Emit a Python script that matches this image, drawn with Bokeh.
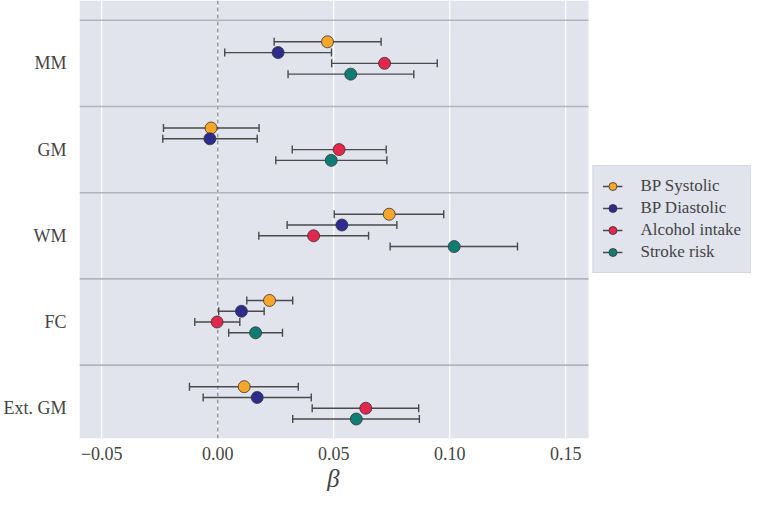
from bokeh.plotting import figure
from bokeh.models import (ColumnDataSource, Range1d, FixedTicker, Span, Whisker,
                          TeeHead, Legend, LegendItem, BoxAnnotation, Title)
from bokeh.embed import file_html
from bokeh.resources import INLINE

# ---- data ----
categories = ["MM", "GM", "WM", "FC", "Ext. GM"]
series = ["BP Systolic", "BP Diastolic", "Alcohol intake", "Stroke risk"]
colors = ["#f8a62a", "#2e2a8e", "#e3264b", "#0f7d73"]

bp_sys_beta = [0.0473, -0.0029, 0.0739, 0.0223, 0.0114]
bp_sys_lo = [0.0243, -0.0234, 0.0502, 0.0125, -0.0122]
bp_sys_hi = [0.0704, 0.0178, 0.0974, 0.0323, 0.0347]

bp_dia_beta = [0.0260, -0.0034, 0.0535, 0.0102, 0.0170]
bp_dia_lo = [0.0030, -0.0237, 0.0299, 0.0004, -0.0063]
bp_dia_hi = [0.0490, 0.0170, 0.0772, 0.0200, 0.0403]

alc_beta = [0.0719, 0.0523, 0.0413, -0.0003, 0.0638]
alc_lo = [0.0491, 0.0321, 0.0177, -0.0099, 0.0407]
alc_hi = [0.0946, 0.0726, 0.0650, 0.0095, 0.0866]

stroke_beta = [0.0573, 0.0489, 0.1019, 0.0163, 0.0597]
stroke_lo = [0.0303, 0.0250, 0.0743, 0.0047, 0.0323]
stroke_hi = [0.0845, 0.0729, 0.1292, 0.0279, 0.0869]

xtick_values = [-0.05, 0.0, 0.05, 0.10, 0.15]
xtick_labels = ["\u22120.05", "0.00", "0.05", "0.10", "0.15"]

betas = [bp_sys_beta, bp_dia_beta, alc_beta, stroke_beta]
los = [bp_sys_lo, bp_dia_lo, alc_lo, stroke_lo]
his = [bp_sys_hi, bp_dia_hi, alc_hi, stroke_hi]

# axis limits of the data panel
X_MIN, X_MAX = -0.0596, 0.1598
# dodge within each category row
offsets = [-0.25, -0.125, 0.0, 0.125]

FONT = "Liberation Serif"
TXT = "#444444"
BG = "#e1e3ed"

W, H = 751, 491
LEFT = 71
PANEL_PX = 509                         # pixel width of the shaded data panel
frame_px = W - LEFT - 8                # measured drawable frame width
x_end = X_MIN + (X_MAX - X_MIN) * frame_px / PANEL_PX   # room for legend on the right

p = figure(width=W, height=H, output_backend="svg", toolbar_location=None,
           x_range=Range1d(X_MIN, x_end), y_range=Range1d(4.351, -0.729),
           min_border_left=LEFT, min_border_right=0, min_border_top=0,
           min_border_bottom=0)
p.background_fill_color = "white"
p.border_fill_color = "white"
p.outline_line_color = None
p.xgrid.grid_line_color = None
p.ygrid.grid_line_color = None

# shaded data panel
p.add_layout(BoxAnnotation(left=X_MIN, right=X_MAX, fill_color=BG, fill_alpha=1.0,
                           line_color=None, level="underlay"))
# white vertical grid lines
for v in xtick_values:
    p.add_layout(Span(location=v, dimension="height", line_color="white",
                      line_width=1.2, level="underlay"))
# zero reference line
p.add_layout(Span(location=0, dimension="height", line_color="#8a8a92",
                  line_width=1.3, line_dash="4 3", level="underlay"))

# axes
p.xaxis.ticker = FixedTicker(ticks=xtick_values)
p.xaxis.major_label_overrides = {v: l for v, l in zip(xtick_values, xtick_labels)}
p.yaxis.ticker = FixedTicker(ticks=list(range(len(categories))))
p.yaxis.major_label_overrides = {i: c for i, c in enumerate(categories)}
for ax in (p.xaxis[0], p.yaxis[0]):
    ax.axis_line_color = None
    ax.major_tick_line_color = None
    ax.minor_tick_line_color = None
    ax.major_label_text_font = FONT
    ax.major_label_text_font_size = "18px"
    ax.major_label_text_color = TXT
p.xaxis.major_label_standoff = 2
p.yaxis.major_label_standoff = 7

# x-axis label, centred under the shaded panel
p.add_layout(Title(text="\u03b2", align="left", offset=PANEL_PX / 2 - 7,
                   text_font=FONT, text_font_style="italic", text_font_size="25px",
                   text_color=TXT, standoff=0, text_line_height=0.6), "below")

# row separators across the data panel
seps = [i - 0.5 for i in range(len(categories))]
p.segment(x0=[X_MIN] * len(seps), x1=[X_MAX] * len(seps), y0=seps, y1=seps,
          line_color="#b1b3bd", line_width=1.6)

items = []
for j, name in enumerate(series):
    ys = [i + offsets[j] for i in range(len(categories))]
    src = ColumnDataSource(dict(y=ys, b=betas[j], lo=los[j], hi=his[j]))
    seg = p.segment(x0="lo", y0="y", x1="hi", y1="y", source=src,
                    line_color="#4a4a4a", line_width=1.4)
    p.add_layout(Whisker(base="y", lower="lo", upper="hi", dimension="width",
                         source=src, line_alpha=0,
                         lower_head=TeeHead(size=8, line_color="#4a4a4a", line_width=1.4),
                         upper_head=TeeHead(size=8, line_color="#4a4a4a", line_width=1.4)))
    dots = p.scatter(x="b", y="y", source=src, size=12, fill_color=colors[j],
                     line_color="#333333", line_width=0.8)
    items.append(LegendItem(label=name, renderers=[seg, dots]))

legend = Legend(items=items, location="center_right", margin=0, padding=9,
                spacing=0, glyph_height=22, glyph_width=20, label_height=22,
                label_standoff=18,
                label_text_font=FONT, label_text_font_size="17px",
                label_text_color=TXT, background_fill_color=BG,
                background_fill_alpha=1.0, border_line_color="#c9cad3",
                border_line_width=1)
p.add_layout(legend, "center")

open("out.html", "w").write(file_html(p, INLINE))
